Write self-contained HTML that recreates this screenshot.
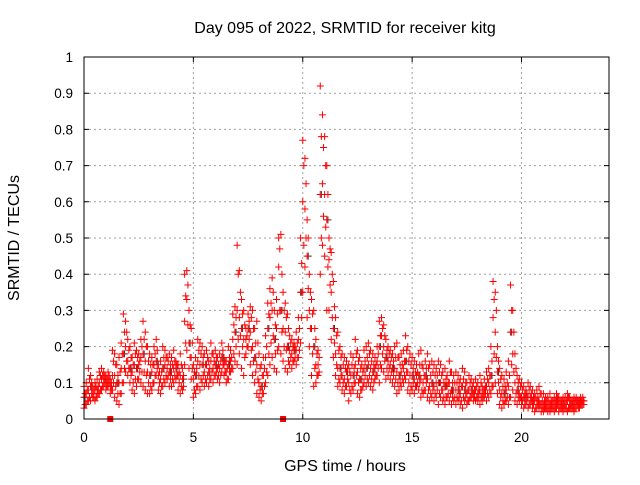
<!DOCTYPE html>
<html><head><meta charset="utf-8"><style>
body{margin:0;background:#fff;width:640px;height:480px;overflow:hidden;font-family:"Liberation Sans",sans-serif}
svg text{font-family:"Liberation Sans",sans-serif;font-size:13.5px;fill:#000}
</style></head><body>
<svg id="chart" width="640" height="480" xmlns="http://www.w3.org/2000/svg">
<text x="345" y="33" text-anchor="middle" style="font-size:16px">Day 095 of 2022, SRMTID for receiver kitg</text>
<text transform="translate(19,238) rotate(-90)" text-anchor="middle" style="font-size:16px">SRMTID / TECUs</text>
<text x="345" y="471" text-anchor="middle" style="font-size:16px">GPS time / hours</text>
<g id="grid"></g>
<g id="axes"></g>
<g id="black"></g>
<g id="red"></g>
<rect x="84" y="57" width="525" height="362" fill="none" stroke="#000" stroke-width="1"/>
</svg>
<script>
const xTicks=[0,5,10,15,20];
const yTicks=[0,0.1,0.2,0.3,0.4,0.5,0.6,0.7,0.8,0.9,1];
const yTickLabels=["0","0.1","0.2","0.3","0.4","0.5","0.6","0.7","0.8","0.9","1"];
const t0=0, dt=0.1;
const hi=[.09,.10,.14,.12,.09,.10,.11,.13,.14,.13,
.12,.13,.11,.19,.18,.15,.17,.21,.29,.27,
.22,.20,.17,.21,.19,.18,.22,.27,.24,.20,
.18,.17,.20,.22,.15,.16,.20,.19,.17,.18,
.17,.19,.16,.15,.18,.14,.40,.41,.30,.25,
.15,.17,.22,.21,.20,.18,.19,.16,.21,.18,
.19,.17,.18,.21,.17,.16,.20,.19,.29,.31,
.48,.41,.33,.30,.25,.29,.31,.30,.25,.27,
.18,.15,.17,.23,.32,.36,.39,.30,.33,.50,
.51,.35,.32,.29,.23,.22,.21,.24,.28,.50,
.77,.72,.55,.40,.33,.30,.22,.19,.92,.84,
.78,.70,.50,.46,.38,.28,.24,.20,.18,.17,
.16,.15,.18,.17,.22,.19,.17,.15,.19,.20,
.21,.19,.18,.17,.20,.27,.28,.26,.22,.20,
.19,.18,.20,.21,.17,.18,.19,.23,.20,.18,
.17,.16,.15,.18,.19,.14,.16,.18,.15,.16,
.15,.14,.16,.15,.13,.14,.12,.16,.13,.12,
.13,.12,.11,.14,.13,.10,.12,.11,.10,.11,
.10,.12,.09,.11,.13,.14,.20,.38,.35,.20,
.14,.12,.11,.13,.16,.37,.30,.18,.12,.11,
.10,.09,.08,.10,.09,.08,.07,.08,.09,.07,
.07,.06,.06,.07,.05,.06,.07,.06,.05,.06,
.06,.07,.06,.05,.06,.06,.05,.06,.06];
const lo=[.03,.04,.05,.05,.06,.05,.06,.07,.08,.09,
.08,.09,.07,.08,.06,.05,.04,.07,.10,.13,
.12,.10,.08,.07,.09,.11,.10,.09,.08,.07,
.07,.08,.10,.12,.08,.07,.09,.10,.11,.09,
.09,.10,.11,.08,.07,.08,.15,.19,.14,.11,
.06,.07,.09,.08,.10,.09,.10,.09,.11,.10,
.12,.11,.10,.13,.12,.10,.11,.13,.14,.16,
.15,.18,.14,.12,.18,.20,.15,.12,.10,.07,
.06,.05,.07,.10,.12,.15,.17,.14,.13,.20,
.18,.16,.14,.13,.15,.14,.16,.15,.17,.21,
.35,.42,.28,.20,.12,.09,.10,.12,.40,.48,
.45,.30,.30,.22,.17,.12,.09,.10,.08,.07,
.09,.05,.07,.08,.10,.07,.06,.08,.10,.09,
.10,.09,.08,.11,.12,.10,.14,.13,.11,.12,
.11,.10,.09,.07,.08,.09,.10,.11,.08,.07,
.08,.07,.09,.08,.06,.07,.08,.06,.05,.06,
.05,.06,.04,.06,.05,.04,.06,.05,.04,.05,
.04,.05,.04,.03,.05,.04,.05,.06,.05,.05,
.05,.04,.05,.06,.05,.06,.07,.09,.10,.07,
.04,.03,.04,.05,.04,.06,.08,.05,.04,.05,
.04,.03,.04,.03,.04,.03,.02,.03,.03,.02,
.02,.03,.02,.02,.03,.02,.03,.02,.03,.02,
.03,.02,.03,.03,.02,.03,.03,.04,.04];
const mid=[.06,.07,.08,.09,.07,.08,.08,.10,.11,.11,
.10,.11,.09,.12,.12,.10,.10,.14,.18,.20,
.16,.14,.13,.15,.14,.15,.17,.18,.16,.13,
.12,.13,.15,.16,.12,.11,.14,.15,.14,.13,
.13,.14,.14,.12,.12,.11,.27,.33,.21,.17,
.11,.12,.16,.15,.15,.13,.15,.13,.16,.14,
.15,.14,.14,.17,.15,.13,.15,.16,.22,.24,
.30,.28,.25,.22,.22,.25,.24,.20,.17,.15,
.10,.09,.12,.17,.25,.28,.30,.22,.25,.42,
.30,.25,.24,.20,.19,.18,.19,.19,.22,.35,
.60,.58,.45,.30,.25,.20,.15,.15,.62,.65,
.62,.55,.44,.35,.25,.18,.14,.14,.12,.11,
.13,.10,.12,.12,.15,.13,.11,.11,.14,.14,
.15,.14,.13,.14,.16,.20,.23,.20,.17,.16,
.15,.14,.14,.13,.12,.13,.14,.16,.13,.12,
.12,.11,.12,.12,.11,.10,.12,.11,.09,.10,
.09,.10,.10,.10,.08,.09,.09,.10,.08,.08,
.08,.08,.07,.09,.08,.07,.08,.08,.07,.08,
.07,.08,.07,.08,.09,.10,.12,.28,.24,.13,
.08,.07,.07,.08,.09,.24,.18,.10,.08,.07,
.06,.06,.06,.06,.06,.05,.05,.05,.05,.04,
.04,.04,.04,.04,.04,.04,.05,.04,.04,.04,
.04,.05,.04,.04,.04,.05,.04,.05,.05];
const lowerQ=[.04,.05,.06,.07,.06,.06,.07,.08,.09,.10,
.09,.10,.08,.10,.09,.07,.07,.10,.14,.16,
.14,.12,.10,.11,.11,.13,.13,.13,.12,.10,
.09,.10,.12,.14,.10,.09,.11,.12,.12,.11,
.11,.12,.12,.10,.09,.09,.21,.26,.17,.14,
.08,.09,.12,.11,.12,.11,.12,.11,.13,.12,
.13,.12,.12,.15,.13,.11,.13,.14,.18,.20,
.22,.23,.20,.17,.20,.22,.19,.16,.13,.11,
.08,.07,.09,.13,.18,.21,.23,.18,.19,.30,
.24,.20,.19,.16,.17,.16,.17,.17,.19,.28,
.48,.50,.36,.25,.18,.14,.12,.13,.50,.56,
.53,.42,.37,.28,.21,.15,.11,.12,.10,.09,
.11,.08,.09,.10,.12,.10,.08,.09,.12,.11,
.12,.11,.10,.12,.14,.15,.18,.16,.14,.14,
.13,.12,.11,.10,.10,.11,.12,.13,.10,.09,
.10,.09,.10,.10,.08,.08,.10,.08,.07,.08,
.07,.08,.07,.08,.06,.06,.07,.07,.06,.06,
.06,.06,.05,.06,.06,.05,.06,.07,.06,.06,
.06,.06,.06,.07,.07,.08,.09,.18,.17,.10,
.06,.05,.05,.06,.06,.15,.13,.07,.06,.06,
.05,.04,.05,.04,.05,.04,.03,.04,.04,.03,
.03,.03,.03,.03,.03,.03,.04,.03,.03,.03,
.03,.03,.03,.03,.03,.04,.03,.04,.04];
const upperQ=[.07,.08,.11,.10,.08,.09,.09,.12,.12,.12,
.11,.12,.10,.16,.15,.12,.13,.18,.24,.24,
.19,.17,.15,.18,.17,.16,.20,.22,.20,.16,
.15,.15,.18,.19,.13,.13,.17,.17,.16,.15,
.15,.16,.15,.13,.15,.12,.34,.37,.26,.21,
.13,.14,.19,.18,.17,.15,.17,.14,.18,.16,
.17,.15,.16,.19,.16,.14,.17,.17,.26,.28,
.40,.35,.29,.26,.23,.27,.28,.25,.21,.21,
.14,.12,.14,.20,.29,.32,.35,.26,.29,.47,
.40,.30,.28,.25,.21,.20,.20,.21,.25,.43,
.70,.65,.50,.35,.29,.25,.18,.17,.78,.75,
.70,.62,.47,.40,.31,.23,.19,.17,.15,.14,
.14,.13,.15,.14,.18,.16,.14,.13,.16,.17,
.18,.16,.15,.15,.18,.23,.25,.23,.19,.18,
.17,.16,.17,.17,.15,.15,.16,.19,.16,.15,
.14,.13,.13,.15,.15,.12,.14,.14,.12,.13,
.12,.12,.13,.12,.10,.11,.10,.13,.10,.10,
.10,.10,.09,.11,.10,.08,.10,.09,.08,.09,
.08,.10,.08,.09,.11,.12,.16,.33,.30,.16,
.11,.09,.09,.10,.12,.30,.24,.14,.10,.09,
.08,.07,.07,.08,.07,.06,.06,.06,.07,.05,
.05,.05,.05,.05,.05,.05,.06,.05,.05,.05,
.05,.06,.05,.05,.05,.05,.05,.05,.05];
const squares=[1.2,9.1];
const NS="http://www.w3.org/2000/svg";
const X=h=>84+h*525/24, Y=v=>419-v*362;
function mk(tag,attrs,parent){const e=document.createElementNS(NS,tag);for(const k in attrs)e.setAttribute(k,attrs[k]);parent.appendChild(e);return e;}
const grid=document.getElementById('grid'),axes=document.getElementById('axes');
xTicks.forEach(t=>{const x=X(t);
 if(t>0){const l=mk('line',{x1:x,y1:57,x2:x,y2:419,stroke:'#a0a0a0','stroke-dasharray':'2,3'},grid);}
 const tk=mk('path',{d:`M${x} 419v-5M${x} 57v5`,stroke:'#000'},axes);
 const tx=mk('text',{x:x,y:442,'text-anchor':'middle'},axes);tx.textContent=t;});
yTicks.forEach((v,i)=>{const y=Y(v);
 if(v>0&&v<1){const l=mk('line',{x1:84,y1:y,x2:609,y2:y,stroke:'#a0a0a0','stroke-dasharray':'2,3'},grid);}
 const tk=mk('path',{d:`M84 ${y}h5M609 ${y}h-5`,stroke:'#000'},axes);
 const tx=mk('text',{x:73,y:y+5,'text-anchor':'end'},axes);tx.textContent=yTickLabels[i];});
function cross(h,v,col,g){const x=X(h),y=Y(v);const p=mk('path',{d:`M${x-3.5} ${y}h7M${x} ${y-3.5}v7`,stroke:col,'stroke-width':1},g);}
const bg=document.getElementById('black'),rg=document.getElementById('red');
mid.forEach((v,i)=>{if(i%3===0)cross(t0+i*dt+0.05,v,'#333',bg);});
[hi,lo,mid].forEach(arr=>arr.forEach((v,i)=>cross(t0+i*dt,v,'#ff0000',rg)));
[lowerQ,upperQ].forEach(arr=>arr.forEach((v,i)=>cross(t0+i*dt+0.05,v,'#ff0000',rg)));
squares.forEach(h=>{const r=mk('rect',{x:X(h)-3,y:416,width:6,height:6,fill:'#ff0000'},rg);});
</script>
</body></html>
